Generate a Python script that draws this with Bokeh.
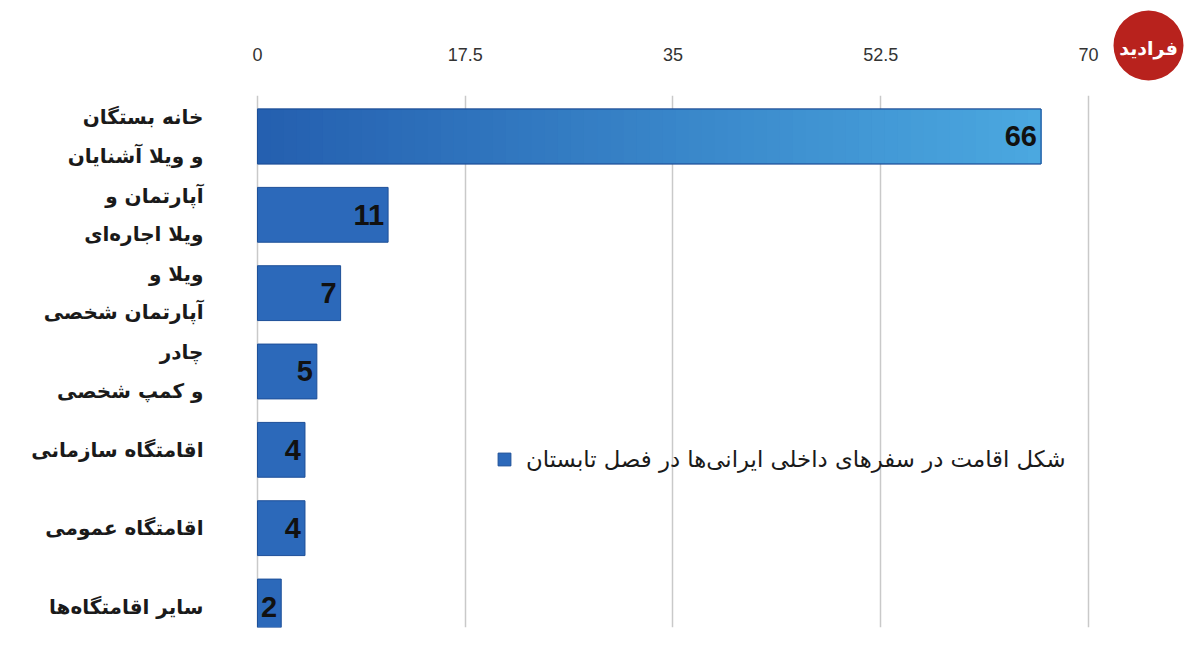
import numpy as np
from bokeh.plotting import figure
from bokeh.layouts import row
from bokeh.models import Range1d, FixedTicker, ColumnDataSource, Legend, LegendItem
from bokeh.core.properties import value
from bokeh.embed import file_html
from bokeh.resources import INLINE

categories = [
    "خانه بستگان\nو ویلا آشنایان",
    "آپارتمان و\nویلا اجاره‌ای",
    "ویلا و\nآپارتمان شخصی",
    "چادر\nو کمپ شخصی",
    "اقامتگاه سازمانی",
    "اقامتگاه عمومی",
    "سایر اقامتگاه‌ها",
]
values = [66, 11, 7, 5, 4, 4, 2]
x_ticks = [0, 17.5, 35, 52.5, 70]
x_tick_labels = ["0", "17.5", "35", "52.5", "70"]
series_name = "شکل اقامت در سفرهای داخلی ایرانی‌ها در فصل تابستان"
logo_text = "فرادید"

ys = list(range(len(categories)))
src = ColumnDataSource(dict(y=ys, v=values, lab=[str(v) for v in values]))

p = figure(width=1110, height=631, output_backend="svg", toolbar_location=None,
           x_range=Range1d(-2.0217, 71.013), y_range=Range1d(6.268, -0.523),
           x_axis_location="above", min_border_left=233, min_border_right=10,
           min_border_top=95, min_border_bottom=4)
p.outline_line_color = None
p.background_fill_color = "white"
p.border_fill_color = "white"
p.frame_align = False

bars = p.hbar(y="y", left=0, right="v", height=0.7, source=src,
              fill_color="#2c69ba", line_color="#1d4f98", line_width=1)

# gradient shading of the longest (first) bar
n_seg = 60
edges = np.linspace(0, values[0], n_seg + 1)
c0 = np.array([0x25, 0x60, 0xb0])
c1 = np.array([0x4b, 0xa8, 0xe0])
tt = np.linspace(0, 1, n_seg)
seg_cols = ["#%02x%02x%02x" % tuple((c0 + (c1 - c0) * t).astype(int)) for t in tt]
p.hbar(y=[ys[0]] * n_seg, left=edges[:-1], right=edges[1:] + 0.05, height=0.7,
       fill_color=seg_cols, line_color=None)
p.hbar(y=[ys[0]], left=[0], right=[values[0]], height=0.7,
       fill_color=None, line_color="#1d4f98", line_width=1)

p.text(x="v", y="y", text="lab", source=src, x_offset=-4,
       text_align="right", text_baseline="middle",
       text_font=value("Liberation Sans"), text_font_style="bold",
       text_font_size="29px", text_color="#111111")

xa = p.xaxis[0]
xa.ticker = FixedTicker(ticks=x_ticks)
xa.major_label_overrides = {t: l for t, l in zip(x_ticks, x_tick_labels)}
xa.axis_line_color = None
xa.major_tick_line_color = None
xa.minor_tick_line_color = None
xa.major_tick_out = 0
xa.major_label_standoff = 35
xa.major_label_text_font = "Liberation Sans"
xa.major_label_text_font_size = "18px"
xa.major_label_text_color = "#333333"

ya = p.yaxis[0]
ya.ticker = FixedTicker(ticks=ys)
ya.major_label_overrides = {i: c for i, c in zip(ys, categories)}
ya.axis_line_color = None
ya.major_tick_line_color = None
ya.minor_tick_line_color = None
ya.major_tick_out = 0
ya.major_label_standoff = 30
ya.major_label_text_font = "DejaVu Sans"
ya.major_label_text_font_style = "bold"
ya.major_label_text_font_size = "20px"
ya.major_label_text_color = "#1a1a1a"
ya.major_label_text_line_height = 1.6

p.xgrid.ticker = FixedTicker(ticks=x_ticks)
p.xgrid.grid_line_color = "#c9c9c9"
p.xgrid.grid_line_width = 1.5
p.ygrid.grid_line_color = None

legend = Legend(items=[LegendItem(label=series_name, renderers=[bars])],
                location=(263, 155), orientation="vertical",
                background_fill_alpha=0, border_line_color=None,
                padding=0, margin=0, glyph_width=16, glyph_height=16,
                label_standoff=14, label_height=24,
                label_text_font="DejaVu Sans", label_text_font_size="22.8px",
                label_text_color="#1a1a1a")
p.add_layout(legend, "center")

# site logo (decoration) in the top-right corner
lg = figure(width=74, height=90, output_backend="svg", toolbar_location=None,
            x_range=Range1d(0, 74), y_range=Range1d(90, 0), align="start",
            x_axis_location=None, y_axis_location=None,
            min_border_left=0, min_border_right=0, min_border_top=0, min_border_bottom=0)
lg.frame_align = False
lg.grid.grid_line_color = None
lg.outline_line_color = None
lg.border_fill_color = "white"
lg.background_fill_color = "white"
lg.scatter(x=[38], y=[45], size=70, marker="circle", fill_color="#b8221d", line_color=None)
lg.text(x=[38], y=[47], text=[logo_text], text_align="center", text_baseline="middle",
        text_font=value("DejaVu Sans"), text_font_style="bold", text_font_size="19px",
        text_color="white")

layout = row(p, lg, spacing=0)
open("out.html", "w").write(file_html(layout, INLINE))
